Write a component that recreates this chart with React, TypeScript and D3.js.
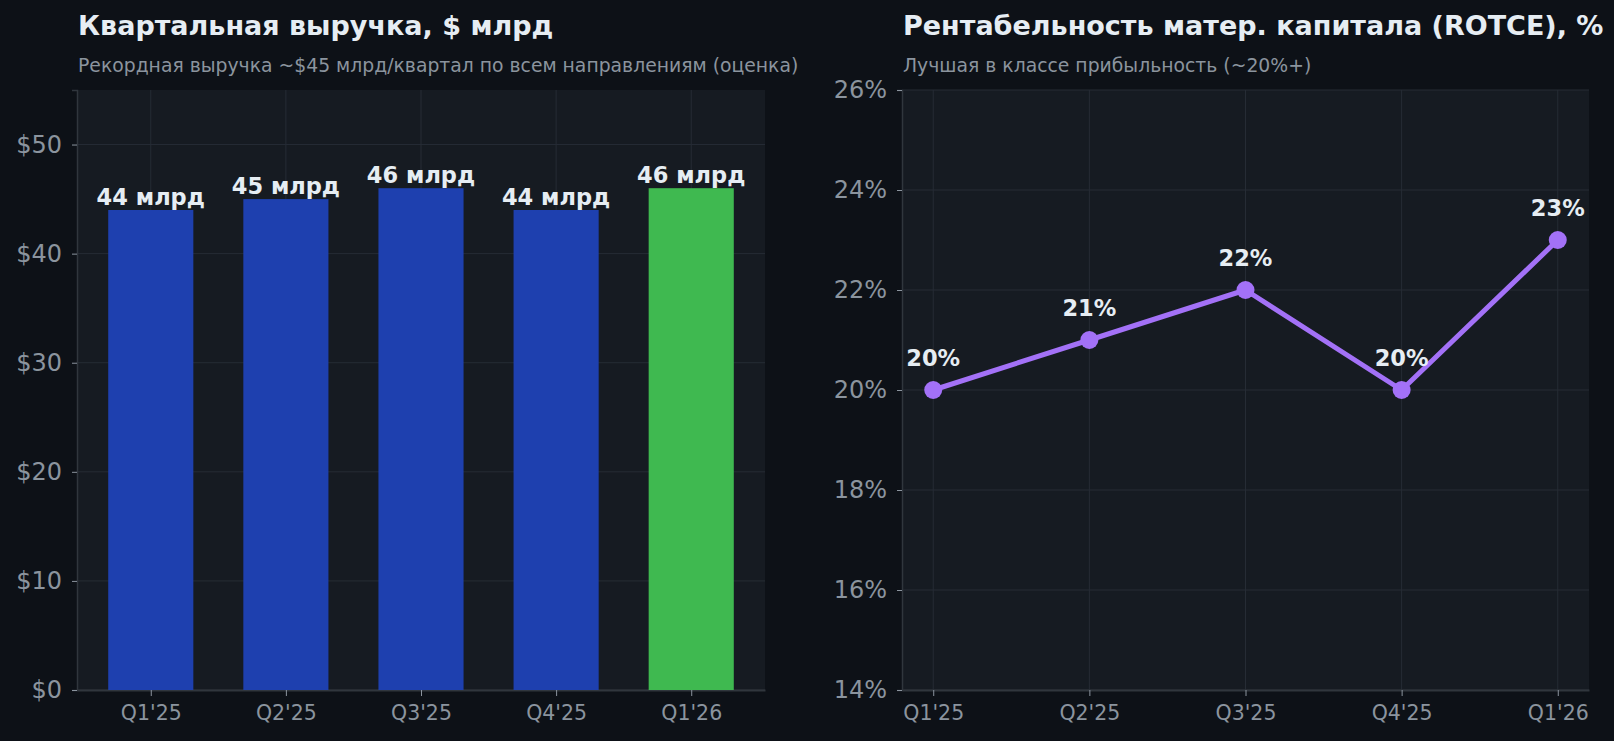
import React, { useRef, useEffect } from 'react';
import * as d3 from 'd3';

// Data
const quarters = ["Q1'25", "Q2'25", "Q3'25", "Q4'25", "Q1'26"];
const revenue = [44, 45, 46, 44, 46]; // $ bn per quarter
const rotce = [20, 21, 22, 20, 23]; // %
const revenueTicks = [0, 10, 20, 30, 40, 50];
const rotceTicks = [14, 16, 18, 20, 22, 24, 26];

const W = 1614;
const H = 741;
const FONT = '"DejaVu Sans", sans-serif';

const BG = '#0d1117';
const FACE = '#161b22';
const GRID = '#262c35';
const SPINE = '#30363d';
const MUTED = '#8b949e';
const TEXT = '#e6edf3';
const BLUE = '#1e40af';
const GREEN = '#3fb950';
const PURPLE = '#a371f7';

const App = () => {
  const ref = useRef<SVGSVGElement>(null);

  useEffect(() => {
    const svg = d3.select(ref.current);
    svg.selectAll('*').remove();

    svg.append('rect').attr('width', W).attr('height', H).attr('fill', BG);

    // shared frame for one panel
    const panel = (x0: number, x1: number, y0: number, y1: number, title: string, sub: string) => {
      const g = svg.append('g');
      g.append('rect')
        .attr('x', x0).attr('y', y0)
        .attr('width', x1 - x0).attr('height', y1 - y0)
        .attr('fill', FACE);
      g.append('text')
        .attr('x', x0 + 1).attr('y', 35)
        .attr('fill', TEXT)
        .style('font', `bold 27px ${FONT}`)
        .text(title);
      g.append('text')
        .attr('x', x0 + 1).attr('y', 72)
        .attr('fill', MUTED)
        .style('font', `18.8px ${FONT}`)
        .text(sub);
      return g;
    };

    const drawAxes = (
      g: d3.Selection<SVGGElement, unknown, null, undefined>,
      x: d3.ScalePoint<string>,
      y: d3.ScaleLinear<number, number>,
      yTicks: number[],
      yFmt: (v: number) => string,
    ) => {
      const [x0, x1] = x.range();
      const [y1, y0] = y.range();

      // grid
      g.append('g').selectAll('line.h')
        .data(yTicks)
        .join('line')
        .attr('x1', x0).attr('x2', x1)
        .attr('y1', (d) => y(d)).attr('y2', (d) => y(d))
        .attr('stroke', GRID).attr('stroke-width', 1);
      g.append('g').selectAll('line.v')
        .data(quarters)
        .join('line')
        .attr('x1', (d) => x(d)!).attr('x2', (d) => x(d)!)
        .attr('y1', y0).attr('y2', y1)
        .attr('stroke', GRID).attr('stroke-width', 1);

      // y axis
      const ya = g.append('g')
        .attr('transform', `translate(${x0},0)`)
        .call(d3.axisLeft(y).tickValues(yTicks).tickFormat((d) => yFmt(d as number)).tickSize(5).tickPadding(10));
      ya.select('.domain').attr('stroke', SPINE).attr('stroke-width', 1.5);
      ya.selectAll('.tick line').attr('stroke', MUTED);
      ya.selectAll('.tick text')
        .attr('fill', MUTED)
        .style('font', `24px ${FONT}`);

      // x axis
      const xa = g.append('g')
        .attr('transform', `translate(0,${y1})`)
        .call(d3.axisBottom(x).tickSize(6).tickPadding(9).tickSizeOuter(0));
      xa.select('.domain').attr('stroke', SPINE).attr('stroke-width', 2);
      xa.selectAll('.tick line').attr('stroke', MUTED);
      xa.selectAll('.tick text')
        .attr('fill', MUTED)
        .style('font', `20.5px ${FONT}`);
    };

    // ---- left: quarterly revenue bars
    {
      const x0 = 77, x1 = 765, y0 = 90, y1 = 690;
      const g = panel(x0, x1, y0, y1, 'Квартальная выручка, $ млрд',
        'Рекордная выручка ~$45 млрд/квартал по всем направлениям (оценка)');
      const x = d3.scalePoint<string>().domain(quarters).range([x0, x1]).padding(0.546);
      const y = d3.scaleLinear().domain([0, 55]).range([y1, y0]);
      const bw = x.step() * 0.63;

      drawAxes(g, x, y, revenueTicks, (v) => `$${v}`);

      g.append('g').selectAll('rect')
        .data(revenue)
        .join('rect')
        .attr('x', (_, i) => x(quarters[i])! - bw / 2)
        .attr('y', (d) => y(d))
        .attr('width', bw)
        .attr('height', (d) => y1 - y(d))
        .attr('fill', (_, i) => (i === revenue.length - 1 ? GREEN : BLUE));

      g.append('g').selectAll('text')
        .data(revenue)
        .join('text')
        .attr('x', (_, i) => x(quarters[i])!)
        .attr('y', (d) => y(d) - 5)
        .attr('text-anchor', 'middle')
        .attr('fill', TEXT)
        .style('font', `bold 22.5px ${FONT}`)
        .text((d) => `${d} млрд`);
    }

    // ---- right: ROTCE line
    {
      const x0 = 902, x1 = 1589, y0 = 90, y1 = 690;
      const g = panel(x0, x1, y0, y1, 'Рентабельность матер. капитала (ROTCE), %',
        'Лучшая в классе прибыльность (~20%+)');
      const x = d3.scalePoint<string>().domain(quarters).range([x0, x1]).padding(0.2);
      const y = d3.scaleLinear().domain([14, 26]).range([y1, y0]);

      drawAxes(g, x, y, rotceTicks, (v) => `${v}%`);

      const line = d3.line<number>()
        .x((_, i) => x(quarters[i])!)
        .y((d) => y(d));

      g.append('path')
        .datum(rotce)
        .attr('d', line)
        .attr('fill', 'none')
        .attr('stroke', PURPLE)
        .attr('stroke-width', 5)
        .attr('stroke-linejoin', 'round');

      g.append('g').selectAll('circle')
        .data(rotce)
        .join('circle')
        .attr('cx', (_, i) => x(quarters[i])!)
        .attr('cy', (d) => y(d))
        .attr('r', 9)
        .attr('fill', PURPLE);

      g.append('g').selectAll('text')
        .data(rotce)
        .join('text')
        .attr('x', (_, i) => x(quarters[i])!)
        .attr('y', (d) => y(d) - 24)
        .attr('text-anchor', 'middle')
        .attr('fill', TEXT)
        .style('font', `bold 22.5px ${FONT}`)
        .text((d) => `${d}%`);
    }

    return () => {
      svg.selectAll('*').remove();
    };
  }, []);

  return (
    <div style={{ position: 'fixed', left: 0, top: 0, width: W, height: H, background: BG }}>
      <svg ref={ref} width={W} height={H} style={{ display: 'block' }} />
    </div>
  );
};

export default App;
